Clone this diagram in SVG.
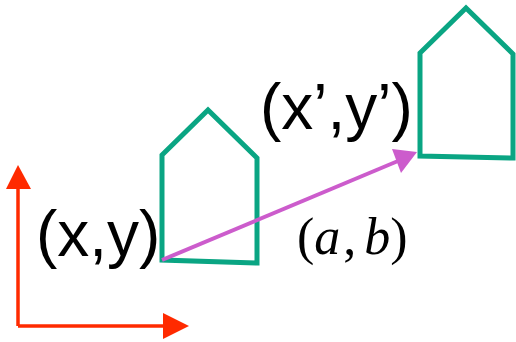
<svg xmlns="http://www.w3.org/2000/svg" width="516" height="342" viewBox="0 0 516 342">
<style>
.house{fill:none;stroke:#0AA583;stroke-width:5;stroke-linejoin:miter}
.lbl{font-family:"Liberation Sans",Arial,sans-serif;font-size:64px;fill:#000}
.math{font-family:"Liberation Serif","Times New Roman",serif;font-size:52px;fill:#000}
</style>
<rect width="516" height="342" fill="#fff"/>
<g id="axes">
<line x1="18" y1="326" x2="18" y2="186" stroke="#FF2A00" stroke-width="3.5"/>
<polygon points="18,165 6,189 31,189" fill="#FF2A00"/>
<line x1="18" y1="326" x2="165" y2="326" stroke="#FF2A00" stroke-width="3.5"/>
<polygon points="189,326 163,313 163,339" fill="#FF2A00"/>
</g>
<g id="house1">
<path class="house" d="M162,260 L162,155 L208,110 L257,158 L257,263 Z"/>
</g>
<g id="house2">
<path class="house" d="M420,156 L420,53 L466,8 L513,54 L513,158 Z"/>
</g>
<g id="connectors">
<line x1="162" y1="260" x2="398" y2="161" stroke="#CC5CCC" stroke-width="4"/>
<polygon points="417,152 392,149 401,173" fill="#CC5CCC"/>
</g>
<g id="labels">
<text class="lbl" x="36" y="256">(x,y)</text>
<text class="lbl" x="260" y="129">(x’,y’)</text>
<text class="math" x="297" y="254">(<tspan font-style="italic">a</tspan><tspan dx="3">,</tspan><tspan dx="8" font-style="italic">b</tspan>)</text>
</g>
</svg>
